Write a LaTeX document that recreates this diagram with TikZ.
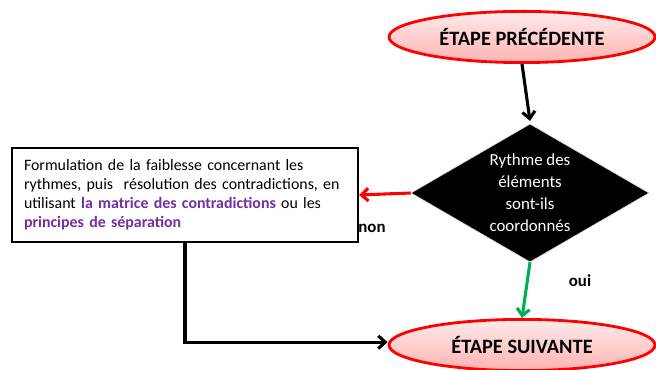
\documentclass[tikz,border=0pt]{standalone}
\usepackage{fontspec}
\setmainfont{Carlito}
\usepackage{xcolor}
\usetikzlibrary{shapes.geometric, arrows.meta, positioning}
\definecolor{stepred}{RGB}{255, 0, 0}
\definecolor{linkpurple}{RGB}{112, 48, 160}
\definecolor{yesgreen}{RGB}{0, 176, 80}

\begin{document}
\begin{tikzpicture}[
    etape/.style={ellipse, draw=stepred, line width=2pt, top color=stepred!8,
                  bottom color=stepred!30, minimum width=6.65cm,
                  minimum height=1.28cm, inner sep=0pt,
                  font=\fontsize{14.5}{17}\selectfont\bfseries},
    choix/.style={diamond, draw=black!15, fill=black, text=white, aspect=1.72,
                  minimum width=5.95cm, minimum height=3.45cm, inner sep=0pt,
                  align=center, font=\fontsize{12}{15.6}\selectfont},
    remede/.style={draw, line width=1.4pt, minimum width=8.65cm,
                   minimum height=2.25cm, inner sep=0.3cm, align=left,
                   font=\fontsize{11.3}{13.5}\selectfont},
    fleche/.style={line width=2.2pt, -{Straight Barb[length=5pt, width=9pt]}},
    reponse/.style={font=\fontsize{12}{14}\selectfont\bfseries},
]
    \useasboundingbox (0,0) rectangle (16.4,9.25);

    \node[etape] (prev) at (13.05,8.325) {ÉTAPE PRÉCÉDENTE};
    \node[choix] (test) at (13.25,4.425)
        {Rythme des\\éléments\\sont-ils\\coordonnés};
    \node[remede, text width=8.05cm] (fix) at (4.625,4.375)
        {Formulation de la faiblesse concernant les\\
         rythmes, puis\ \ résolution des contradictions, en\\
         utilisant \textcolor{linkpurple}{\bfseries la matrice des contradictions} ou les\\
         \textcolor{linkpurple}{\bfseries principes de séparation}};
    \node[etape] (next) at (13.05,0.625) {ÉTAPE SUIVANTE};

    \node[reponse] (non) at (9.3,3.55) {non};
    \node[reponse] (oui) at (14.5,2.225) {oui};

    \draw[fleche] (prev.south) -- ([yshift=2pt]test.north);
    \draw[fleche, stepred] (test.west) -- (fix.east);
    \draw[fleche, yesgreen] (test.south) -- (next.north);
    \draw[fleche] (fix.south) |- ([yshift=2pt]next.west);
\end{tikzpicture}
\end{document}
